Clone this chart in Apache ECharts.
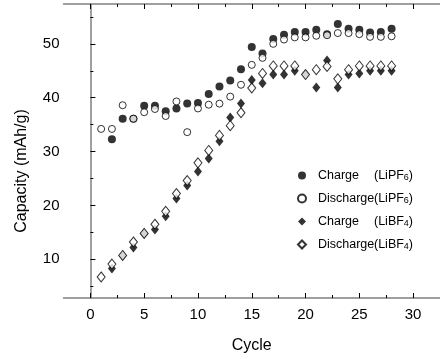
<!DOCTYPE html>
<html>
<head>
<meta charset="utf-8">
<script src="https://cdn.jsdelivr.net/npm/echarts@6/dist/echarts.min.js"></script>
<style>
  html, body { margin: 0; padding: 0; background: #fff; }
  #chart { width: 440px; height: 359px; }
</style>
</head>
<body>
<div id="chart"></div>
<script>
// cycle numbers and capacities (mAh/g)
const cycles = [1, 2, 3, 4, 5, 6, 7, 8, 9, 10, 11, 12, 13, 14, 15, 16, 17, 18, 19, 20, 21, 22, 23, 24, 25, 26, 27, 28];
const chargePF6 = [null, 32.3, 36.1, 36.1, 38.5, 38.5, 37.5, 38.0, 38.9, 39.0, 40.7, 42.1, 43.2, 45.3, 49.4, 48.2, 50.9, 51.7, 52.2, 52.2, 52.6, 51.8, 53.7, 52.8, 52.6, 52.1, 52.2, 52.8];
const dischargePF6 = [34.2, 34.2, 38.6, 36.1, 37.3, 37.9, 36.6, 39.3, 33.6, 38.0, 38.7, 38.9, 40.2, 42.4, 46.1, 47.4, 50.0, 50.8, 51.2, 51.2, 51.5, 51.6, 52.0, 52.0, 51.8, 51.3, 51.3, 51.4];
const chargeBF4 = [null, 8.3, 10.7, 12.2, 14.8, 15.5, 18.0, 21.3, 23.7, 26.3, 28.7, 31.9, 36.3, 38.9, 43.3, 42.7, 44.3, 44.3, 45.0, 44.3, 41.9, 46.9, 41.9, 44.3, 44.5, 45.0, 45.0, 45.0];
const dischargeBF4 = [6.7, 9.1, 10.7, 13.2, 14.8, 16.5, 18.9, 22.2, 24.6, 27.9, 30.2, 33.0, 34.8, 37.2, 41.8, 44.5, 45.9, 45.9, 45.9, 44.3, 45.2, 45.8, 43.5, 45.2, 45.9, 45.9, 45.9, 45.9];

// tick labels
const xMajor = [0, 5, 10, 15, 20, 25, 30];
const xMinor = [2.5, 7.5, 12.5, 17.5, 22.5, 27.5];
const yMajor = [10, 20, 30, 40, 50];
const yMinor = [5, 15, 25, 35, 45, 55];

// legend pieces
const seriesNames = ['Charge (LiPF6)', 'Discharge (LiPF6)', 'Charge (LiBF4)', 'Discharge (LiBF4)'];
const legendWords = ['Charge', 'Discharge', 'Charge', 'Discharge'];
const legendSalts = ['LiPF', 'LiPF', 'LiBF', 'LiBF'];
const legendSubs = ['6', '6', '4', '4'];

const FONT = 'Liberation Sans, Arial, sans-serif';
const pair = arr => cycles.map((c, i) => [c, arr[i]]).filter(p => p[1] != null);

const xBase = { type: 'value', min: -2.5, max: 32.5, splitLine: { show: false } };
const yBase = { type: 'value', min: 2.8, max: 57.4, splitLine: { show: false } };
const axisLine = { show: true, lineStyle: { color: '#808080', width: 1.5 } };
const noLine = { show: false };
const tick = (vals, len) => ({ show: true, inside: true, length: len, customValues: vals, lineStyle: { color: '#000', width: 1 } });

const chart = echarts.init(document.getElementById('chart'));

chart.setOption({
  backgroundColor: '#fff',
  animation: false,
  grid: { left: 63.5, top: 4, width: 377.6, height: 294.5, containLabel: false },
  xAxis: [
    {
      ...xBase, position: 'bottom',
      axisLine, axisTick: tick(xMajor, 5),
      axisLabel: { customValues: xMajor, color: '#000', fontSize: 15, fontFamily: FONT, margin: 9 },
      name: 'Cycle', nameLocation: 'middle', nameGap: 40,
      nameTextStyle: { color: '#000', fontSize: 16, fontFamily: FONT }
    },
    { ...xBase, position: 'bottom', axisLine: noLine, axisTick: tick(xMinor, 3), axisLabel: { show: false } },
    { ...xBase, position: 'top', axisLine, axisTick: tick(xMajor, 5), axisLabel: { show: false } },
    { ...xBase, position: 'top', axisLine: noLine, axisTick: tick(xMinor, 3), axisLabel: { show: false } }
  ],
  yAxis: [
    {
      ...yBase, position: 'left',
      axisLine, axisTick: tick(yMajor, 5),
      axisLabel: { customValues: yMajor, color: '#000', fontSize: 15, fontFamily: FONT, margin: 4 },
      name: 'Capacity (mAh/g)', nameLocation: 'middle', nameGap: 34,
      nameTextStyle: { color: '#000', fontSize: 16, fontFamily: FONT, padding: [0, 40, 0, 0] }
    },
    { ...yBase, position: 'left', axisLine: noLine, axisTick: tick(yMinor, 3), axisLabel: { show: false } }
  ],
  legend: {
    orient: 'vertical',
    left: 292,
    top: 164,
    itemWidth: 8,
    itemHeight: 8,
    itemGap: 9.5,
    data: seriesNames,
    formatter: name => {
      const i = seriesNames.indexOf(name);
      return '{w|' + legendWords[i] + '}{b|(' + legendSalts[i] + '}{s|' + legendSubs[i] + '}{b|)}';
    },
    textStyle: {
      color: '#000',
      fontFamily: FONT,
      fontSize: 12.5,
      rich: {
        w: { width: 56, fontSize: 12.5, fontFamily: FONT, color: '#000', padding: [0, 0, 0, 7] },
        b: { fontSize: 12.5, fontFamily: FONT, color: '#000' },
        s: { fontSize: 9, fontFamily: FONT, color: '#000', verticalAlign: 'bottom', padding: [5, 0, 0, 0] }
      }
    }
  },
  series: [
    {
      name: seriesNames[0], type: 'scatter', data: pair(chargePF6),
      symbol: 'circle', symbolSize: 8,
      itemStyle: { color: '#000' }
    },
    {
      name: seriesNames[1], type: 'scatter', data: pair(dischargePF6),
      symbol: 'circle', symbolSize: 7,
      itemStyle: { color: '#fff', borderColor: '#000', borderWidth: 1 }
    },
    {
      name: seriesNames[2], type: 'scatter', data: pair(chargeBF4),
      symbol: 'diamond', symbolSize: [8, 10],
      itemStyle: { color: '#000' }
    },
    {
      name: seriesNames[3], type: 'scatter', data: pair(dischargeBF4),
      symbol: 'diamond', symbolSize: [8, 10],
      itemStyle: { color: '#fff', borderColor: '#000', borderWidth: 1 }
    }
  ]
});
</script>
</body>
</html>
